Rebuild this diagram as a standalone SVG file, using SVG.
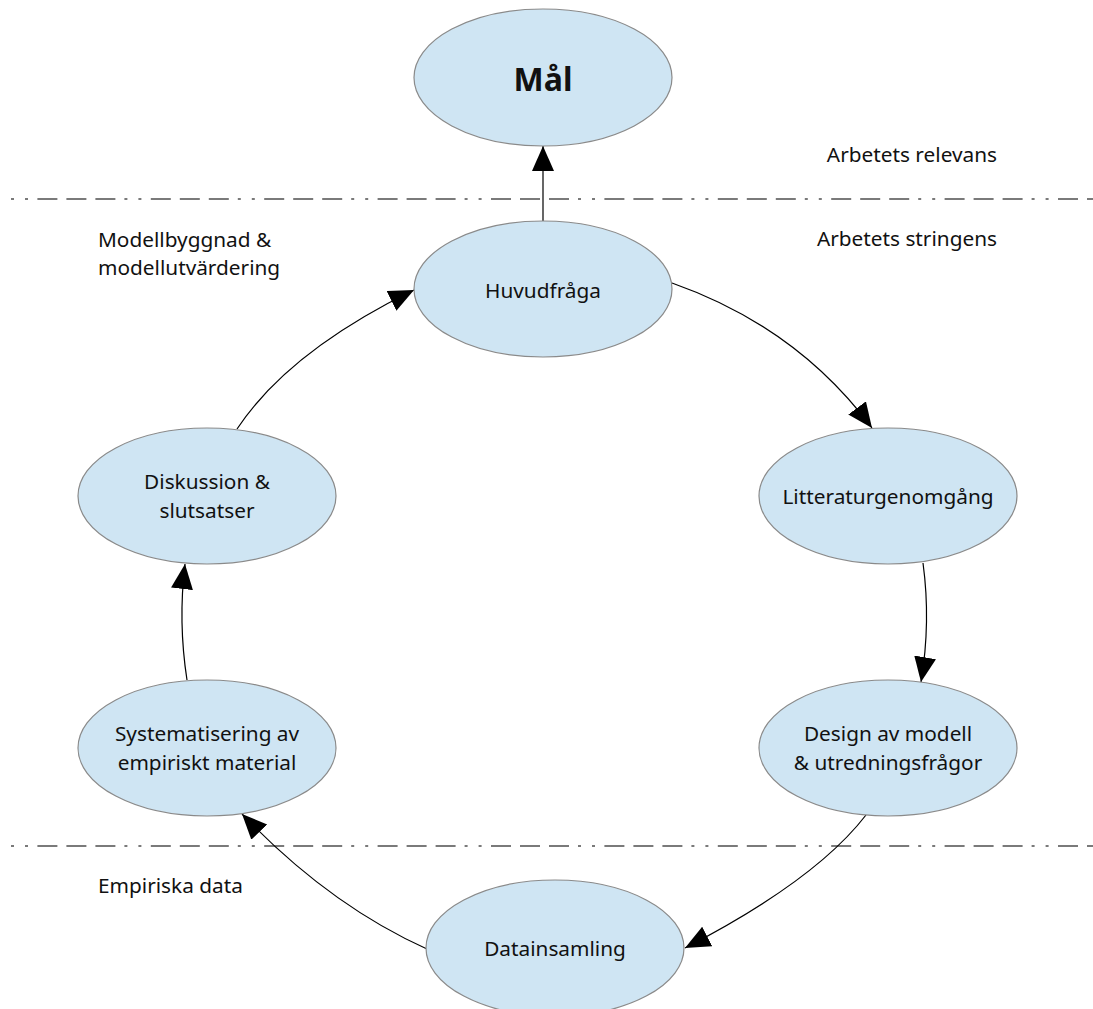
<svg xmlns="http://www.w3.org/2000/svg" width="1093" height="1009" viewBox="0 0 1093 1009">
  <style>
    .node { fill: #cfe5f3; stroke: #8a8a8a; stroke-width: 1.2; }
    .lbl { font-family: "Noto Sans", "Open Sans", "DejaVu Sans", sans-serif; font-size: 20.8px; fill: #111; }
    .mid { text-anchor: middle; }
    .title { font-weight: bold; font-size: 32px; }
    .edge { fill: none; stroke: #000; stroke-width: 1.2; marker-end: url(#arrow); }
    .sep { stroke: #7a7a7a; stroke-width: 2; stroke-dasharray: 3 11 3 9.4 20 9 20 9 20 9; }
  </style>
  <defs>
    <marker id="arrow" markerUnits="userSpaceOnUse" markerWidth="26" markerHeight="24" refX="25" refY="11" orient="auto">
      <path d="M0,0 L25,11 L0,22 Z" fill="#000"/>
    </marker>
  </defs>
  <rect width="1093" height="1009" fill="#fff"/>

  <!-- section separators -->
  <g id="separators">
    <line class="sep" x1="11" y1="199" x2="1093" y2="199"/>
    <line class="sep" x1="11" y1="846" x2="1093" y2="846"/>
  </g>

  <!-- free labels -->
  <g id="labels">
    <text class="lbl" x="997" y="162" text-anchor="end">Arbetets relevans</text>
    <text class="lbl" x="997" y="246" text-anchor="end">Arbetets stringens</text>
    <text class="lbl" x="98" y="247">Modellbyggnad &amp;</text>
    <text class="lbl" x="98" y="275">modellutvärdering</text>
    <text class="lbl" x="98" y="893">Empiriska data</text>
  </g>

  <!-- connectors -->
  <g id="connectors">
    <line class="edge" x1="543" y1="221" x2="543" y2="146"/>
    <path class="edge" d="M672,283 Q797,327 872,428"/>
    <path class="edge" d="M923,563 Q931,622 921,682"/>
    <path class="edge" d="M866,815 Q815.5,880.6 685,948"/>
    <path class="edge" d="M427,949 Q329,905 242,814"/>
    <path class="edge" d="M187,680 Q178,622 185,564"/>
    <path class="edge" d="M237,429 Q288.4,351.4 414,290"/>
  </g>

  <!-- nodes -->
  <g id="mal">
    <ellipse class="node" cx="543" cy="77.5" rx="129" ry="68.5"/>
    <text class="lbl mid title" x="543" y="91">Mål</text>
  </g>
  <g id="huvudfraga">
    <ellipse class="node" cx="543" cy="289" rx="129" ry="68"/>
    <text class="lbl mid" x="543" y="298">Huvudfråga</text>
  </g>
  <g id="litteratur">
    <ellipse class="node" cx="888" cy="496" rx="129" ry="68"/>
    <text class="lbl mid" x="888" y="504">Litteraturgenomgång</text>
  </g>
  <g id="design">
    <ellipse class="node" cx="888" cy="748" rx="129" ry="68"/>
    <text class="lbl mid" x="888" y="741">Design av modell</text>
    <text class="lbl mid" x="888" y="770">&amp; utredningsfrågor</text>
  </g>
  <g id="datainsamling">
    <ellipse class="node" cx="555" cy="948" rx="129" ry="68"/>
    <text class="lbl mid" x="555" y="956">Datainsamling</text>
  </g>
  <g id="systematisering">
    <ellipse class="node" cx="207" cy="748" rx="129" ry="68"/>
    <text class="lbl mid" x="207" y="741">Systematisering av</text>
    <text class="lbl mid" x="207" y="770">empiriskt material</text>
  </g>
  <g id="diskussion">
    <ellipse class="node" cx="207" cy="496" rx="129" ry="68"/>
    <text class="lbl mid" x="207" y="489">Diskussion &amp;</text>
    <text class="lbl mid" x="207" y="518">slutsatser</text>
  </g>
</svg>
